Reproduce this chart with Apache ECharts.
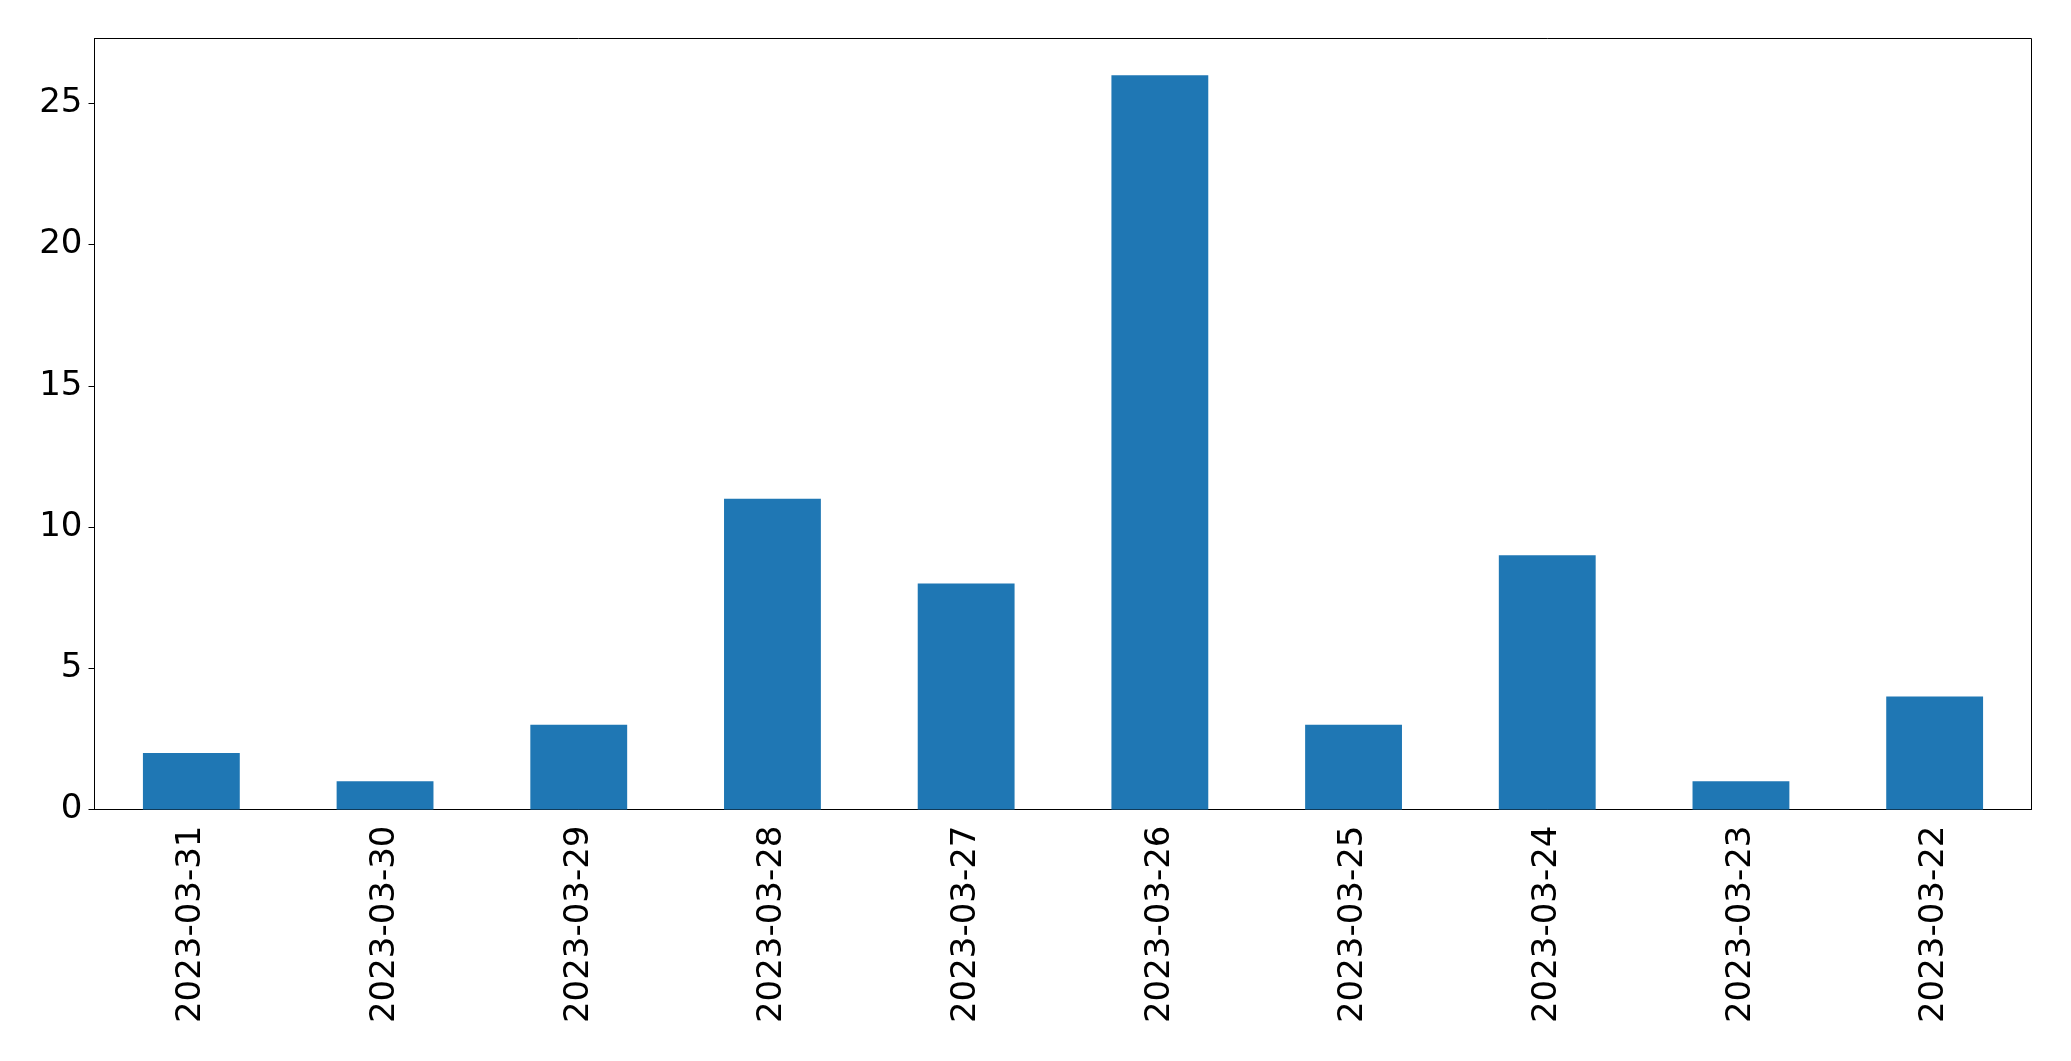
<!DOCTYPE html>
<html>
<head>
<meta charset="utf-8">
<script src="https://cdn.jsdelivr.net/npm/echarts@6/dist/echarts.min.js"></script>
<style>html,body{margin:0;padding:0;background:#fff;}#c{width:2071px;height:1061px;}</style>
</head>
<body>
<div id="c"></div>
<script>
const categories = ["2023-03-31","2023-03-30","2023-03-29","2023-03-28","2023-03-27","2023-03-26","2023-03-25","2023-03-24","2023-03-23","2023-03-22"];
const values = [2, 1, 3, 11, 8, 26, 3, 9, 1, 4];
const yTicks = [0, 5, 10, 15, 20, 25];

const chart = echarts.init(document.getElementById('c'), null, {renderer: 'canvas'});
const font = 'DejaVu Sans';
chart.setOption({
  animation: false,
  backgroundColor: '#ffffff',
  grid: {left: 94.5, right: 39.5, top: 38.5, bottom: 251.5, show: true, borderColor: '#000', borderWidth: 1, backgroundColor: 'transparent'},
  xAxis: {
    type: 'category',
    data: categories,
    boundaryGap: true,
    axisLine: {lineStyle: {color: '#000', width: 1}},
    axisTick: {alignWithLabel: true, length: 6, lineStyle: {color: '#000'}},
    axisLabel: {rotate: 90, margin: 16, color: '#000', fontFamily: font, fontSize: 34, interval: 0},
    splitLine: {show: false}
  },
  yAxis: {
    type: 'value',
    min: 0,
    max: 27.3,
    interval: 5,
    axisLine: {show: true, lineStyle: {color: '#000', width: 1}},
    axisTick: {show: true, length: 6, lineStyle: {color: '#000'}, customValues: yTicks},
    axisLabel: {margin: 12, color: '#000', fontFamily: font, fontSize: 34, customValues: yTicks},
    splitLine: {show: false}
  },
  series: [{
    type: 'bar',
    data: values,
    barWidth: '50%',
    itemStyle: {color: '#1f77b4'}
  }]
});
</script>
</body>
</html>
